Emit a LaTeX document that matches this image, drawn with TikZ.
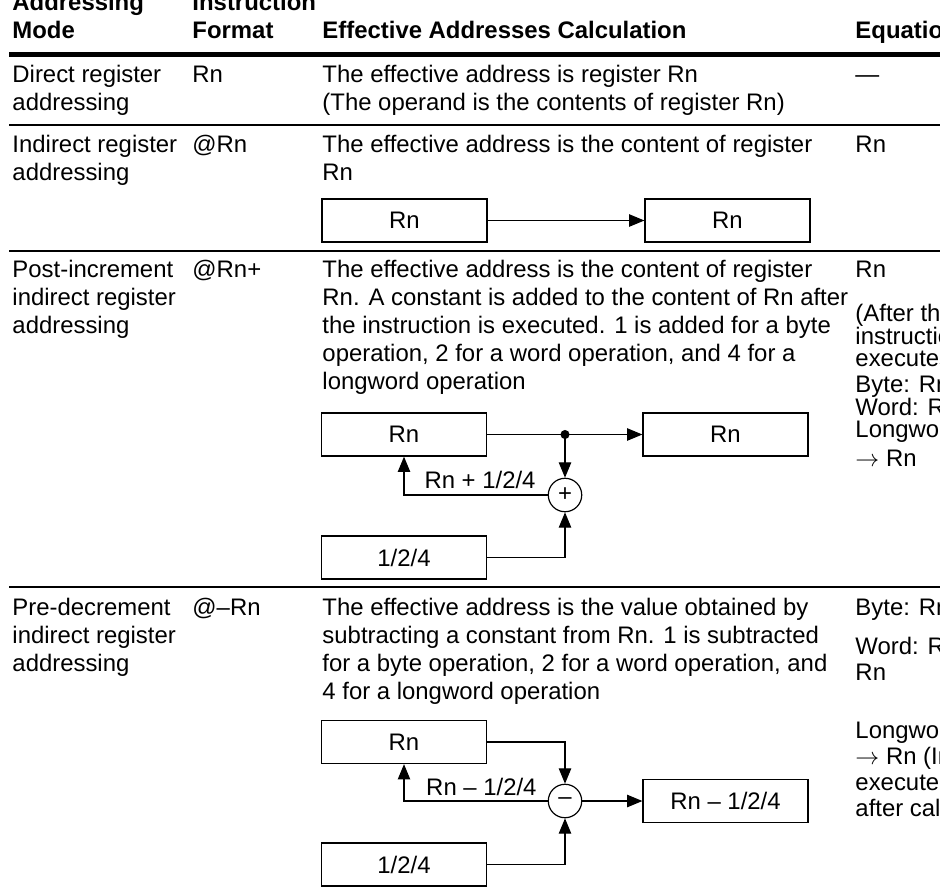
\documentclass[tikz,border=0pt]{standalone}
\usepackage{fontspec}
\setmainfont{Liberation Sans}
\usetikzlibrary{arrows.meta}

\tikzset{
  cell/.style={anchor=base west,inner sep=0pt,font=\fontsize{10}{11.7}\selectfont},
  head/.style={cell,font=\fontsize{10}{11.7}\selectfont\bfseries},
  reg/.style={draw,line width=0.55pt,minimum width=69pt,minimum height=18pt,inner sep=0pt,font=\fontsize{10}{11.7}\selectfont},
  op/.style={draw,circle,line width=0.5pt,minimum size=14pt,inner sep=0pt,font=\fontsize{10}{11.7}\selectfont},
  flow/.style={line width=0.45pt,-{Triangle[length=6.4pt,width=5.2pt]}},
  rule/.style={line width=0.55pt}
}

\begin{document}
\begin{tikzpicture}[x=0.4184pt,y=-0.4184pt]
\useasboundingbox (0,0) rectangle (940,894);
\clip (0,0) rectangle (940,894);
% header
\node[head] (hmode1) at (12,10) {Addressing};
\node[head] (hmode2) at (12,38) {Mode};
\node[head] (hfmt1) at (192,10) {Instruction};
\node[head] (hfmt2) at (192,38) {Format};
\node[head] (hcalc) at (322,38) {Effective Addresses Calculation};
\node[head] (heq) at (855,38) {Equatio};
\draw[line width=1.8pt] (9,54.5)--(940,54.5);
% direct register
\foreach \t [count=\i] in {Direct register,addressing}
  \node[cell] (mode1-\i) at (12,{54+28*\i}) {\t};
\node[cell] (fmt1) at (192,82) {Rn};
\foreach \t [count=\i] in {The effective address is register Rn,{(The operand is the contents of register Rn)}}
  \node[cell] (calc1-\i) at (322,{54+28*\i}) {\t};
\node[cell] (eq1) at (855,82) {---};
\draw[rule] (9,125)--(940,125);
% indirect register
\foreach \t [count=\i] in {Indirect register,addressing}
  \node[cell] (mode2-\i) at (12,{124+28*\i}) {\t};
\node[cell] (fmt2) at (192,152) {@Rn};
\foreach \t [count=\i] in {The effective address is the content of register,Rn}
  \node[cell] (calc2-\i) at (322,{124+28*\i}) {\t};
\node[cell] (eq2) at (855,152) {Rn};
\node[reg] (src2) at (404.5,220.5) {Rn};
\node[reg] (dst2) at (727.5,220.5) {Rn};
\draw[flow] (src2)--(dst2);
\draw[rule] (9,251)--(940,251);
% post-increment
\foreach \t [count=\i] in {Post-increment,indirect register,addressing}
  \node[cell] (mode3-\i) at (12,{249+28*\i}) {\t};
\node[cell] (fmt3) at (192,277) {@Rn+};
\foreach \t [count=\i] in {The effective address is the content of register,
    Rn. A constant is added to the content of Rn after,
    the instruction is executed. 1 is added for a byte,
    {operation, 2 for a word operation, and 4 for a},
    longword operation}
  \node[cell] (calc3-\i) at (322,{249+28*\i}) {\t};
\foreach \y/\t [count=\i] in {277/Rn,321/{(After th},344/instructio,366/executes,
    392/{Byte: Rn},415/{Word: R},437/Longwor,466/{$\rightarrow$ Rn}}
  \node[cell] (eq3-\i) at (855,\y) {\t};
\node[reg] (src3) at (404,434.5) {Rn};
\node[reg] (dst3) at (725.5,434.5) {Rn};
\node[op] (add3) at (565,495) {+};
\node[reg] (inc3) at (404,557.5) {1/2/4};
\coordinate (tap3) at (565,434.5);
\draw[flow] (src3)--(dst3);
\fill (tap3) circle (1.9pt);
\draw[flow] (tap3)--(add3);
\draw[flow] (add3)-|(src3);
\draw[flow] (inc3)-|(add3);
\node[cell,anchor=base east] (sum3) at (536,488) {Rn + 1/2/4};
\draw[rule] (9,587)--(940,587);
% pre-decrement
\foreach \t [count=\i] in {Pre-decrement,indirect register,addressing}
  \node[cell] (mode4-\i) at (12,{587+28*\i}) {\t};
\node[cell] (fmt4) at (192,615) {@--Rn};
\foreach \t [count=\i] in {The effective address is the value obtained by,
    subtracting a constant from Rn. 1 is subtracted,
    {for a byte operation, 2 for a word operation, and},
    4 for a longword operation}
  \node[cell] (calc4-\i) at (322,{587+28*\i}) {\t};
\foreach \y/\t [count=\i] in {615/{Byte: Rn},654/{Word: R},680/Rn,738/Longwor,
    764/{$\rightarrow$ Rn (In},790/executed,816/{after cal}}
  \node[cell] (eq4-\i) at (855,\y) {\t};
\node[reg] (src4) at (404,742) {Rn};
\node[op] (sub4) at (565,801) {--};
\node[reg] (dst4) at (725.5,801) {Rn -- 1/2/4};
\node[reg] (dec4) at (404,864.5) {1/2/4};
\draw[flow] (src4)-|(sub4);
\draw[flow] (sub4)-|(src4);
\draw[flow] (sub4)--(dst4);
\draw[flow] (dec4)-|(sub4);
\node[cell,anchor=base east] (dif4) at (537,795) {Rn -- 1/2/4};
\end{tikzpicture}
\end{document}
